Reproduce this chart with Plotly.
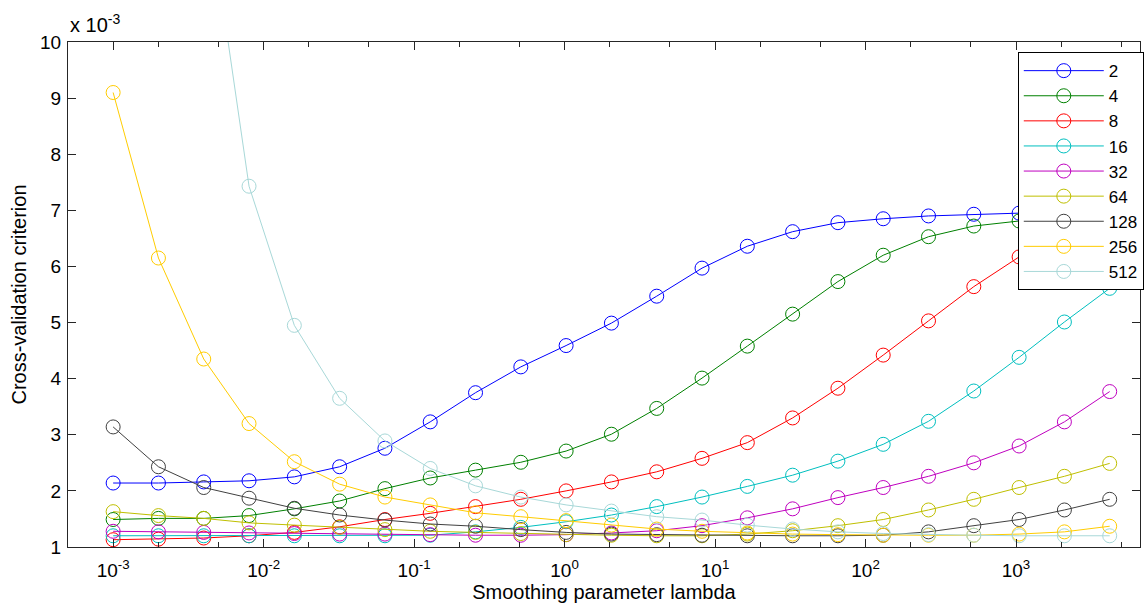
import plotly.graph_objects as go

# lambda values: 1e-3 * 2^k, k = 0..22
lam = [0.001 * 2 ** k for k in range(23)]

series_names = ["2", "4", "8", "16", "32", "64", "128", "256", "512"]

cv_2 = [2.14, 2.14, 2.16, 2.18, 2.25, 2.43, 2.76, 3.23, 3.75, 4.21, 4.59, 4.99,
        5.47, 5.97, 6.36, 6.62, 6.78, 6.85, 6.90, 6.93, 6.95, 6.96, 6.97]
cv_4 = [1.49, 1.51, 1.51, 1.56, 1.68, 1.82, 2.04, 2.23, 2.37, 2.51, 2.71, 3.01,
        3.47, 4.01, 4.58, 5.15, 5.73, 6.20, 6.53, 6.72, 6.81, 6.87, 6.90]
cv_8 = [1.13, 1.14, 1.16, 1.20, 1.26, 1.36, 1.49, 1.60, 1.72, 1.85, 2.00, 2.16,
        2.34, 2.58, 2.86, 3.30, 3.83, 4.42, 5.03, 5.64, 6.17, 6.58, 6.85]
cv_16 = [1.20, 1.20, 1.20, 1.20, 1.20, 1.20, 1.20, 1.21, 1.27, 1.35, 1.45, 1.57,
         1.72, 1.89, 2.08, 2.28, 2.53, 2.83, 3.24, 3.78, 4.38, 5.01, 5.61]
cv_32 = [1.28, 1.27, 1.26, 1.25, 1.24, 1.23, 1.23, 1.22, 1.21, 1.21, 1.22, 1.25,
         1.29, 1.38, 1.52, 1.68, 1.88, 2.06, 2.26, 2.50, 2.80, 3.23, 3.77]
cv_64 = [1.63, 1.56, 1.51, 1.43, 1.39, 1.35, 1.31, 1.28, 1.26, 1.24, 1.22, 1.21,
         1.20, 1.20, 1.23, 1.29, 1.38, 1.49, 1.66, 1.85, 2.06, 2.26, 2.49]
cv_128 = [3.14, 2.43, 2.06, 1.87, 1.69, 1.57, 1.48, 1.41, 1.37, 1.31, 1.26, 1.23,
          1.22, 1.21, 1.20, 1.20, 1.20, 1.21, 1.27, 1.38, 1.49, 1.66, 1.85]
cv_256 = [9.10, 6.15, 4.35, 3.20, 2.52, 2.12, 1.89, 1.75, 1.61, 1.54, 1.47, 1.39,
          1.32, 1.28, 1.25, 1.23, 1.22, 1.21, 1.21, 1.21, 1.23, 1.27, 1.37]
cv_512 = [32.0, 21.0, 13.0, 7.43, 4.95, 3.65, 2.89, 2.40, 2.09, 1.89, 1.75, 1.64,
          1.54, 1.48, 1.39, 1.32, 1.27, 1.24, 1.22, 1.21, 1.20, 1.20, 1.20]

series_values = [cv_2, cv_4, cv_8, cv_16, cv_32, cv_64, cv_128, cv_256, cv_512]
colors = ["#0000FF", "#008000", "#FF0000", "#00BFBF", "#BF00BF", "#BFBF00",
          "#404040", "#FFCC00", "#A8D8D8"]

x_tickvals = [1e-3, 1e-2, 1e-1, 1e0, 1e1, 1e2, 1e3]
x_ticktext = ["10<sup>-3</sup>", "10<sup>-2</sup>", "10<sup>-1</sup>", "10<sup>0</sup>",
              "10<sup>1</sup>", "10<sup>2</sup>", "10<sup>3</sup>"]
y_tickvals = [1, 2, 3, 4, 5, 6, 7, 8, 9, 10]

FONT = "Liberation Sans, Arial, Helvetica, sans-serif"
AX = "#262626"

fig = go.Figure()
for name, vals, col in zip(series_names, series_values, colors):
    fig.add_trace(go.Scatter(
        x=lam, y=vals, name=name, mode="lines+markers",
        line=dict(color=col, width=1),
        marker=dict(symbol="circle-open", size=14, color=col, line=dict(width=1, color=col)),
    ))

fig.update_layout(
    width=1147, height=609,
    margin=dict(l=68, r=7, t=42, b=62, autoexpand=False),
    paper_bgcolor="white", plot_bgcolor="white",
    font=dict(family=FONT, size=19, color="black"),
    showlegend=True,
    legend=dict(
        x=0.886, y=0.980, xanchor="left", yanchor="top",
        bgcolor="white", bordercolor="black", borderwidth=1,
        font=dict(family=FONT, size=17, color="black"),
        itemwidth=80, tracegroupgap=0,
    ),
    xaxis=dict(
        type="log", range=[-3.30, 3.824], automargin=False,
        tickvals=x_tickvals, ticktext=x_ticktext,
        ticks="inside", ticklen=8, tickcolor=AX, tickwidth=1,
        showline=True, linecolor=AX, linewidth=1, mirror="allticks",
        showgrid=False, zeroline=False,
        minor=dict(ticks="inside", ticklen=5, tickcolor=AX, showgrid=False),
        tickfont=dict(size=19), ticklabelstandoff=6,
        title=dict(text="Smoothing parameter lambda", font=dict(size=20), standoff=4),
    ),
    yaxis=dict(
        range=[1, 10], automargin=False,
        tickvals=y_tickvals, ticktext=[str(v) for v in y_tickvals],
        ticks="inside", ticklen=8, tickcolor=AX, tickwidth=1,
        showline=True, linecolor=AX, linewidth=1, mirror="allticks",
        showgrid=False, zeroline=False,
        tickfont=dict(size=19), ticklabelstandoff=2,
        title=dict(text="Cross-validation criterion", font=dict(size=20), standoff=8),
    ),
    annotations=[dict(
        text="x 10<sup>-3</sup>", xref="paper", yref="paper", x=0.0, y=1.0,
        xanchor="left", yanchor="bottom", showarrow=False, yshift=4,
        font=dict(family=FONT, size=20, color="black"),
    )],
)

fig.write_html(
    "out.html",
    config={"displayModeBar": False},
    post_script="document.body.style.margin='0';document.body.style.padding='0';"
                "document.documentElement.style.overflow='hidden';",
)
